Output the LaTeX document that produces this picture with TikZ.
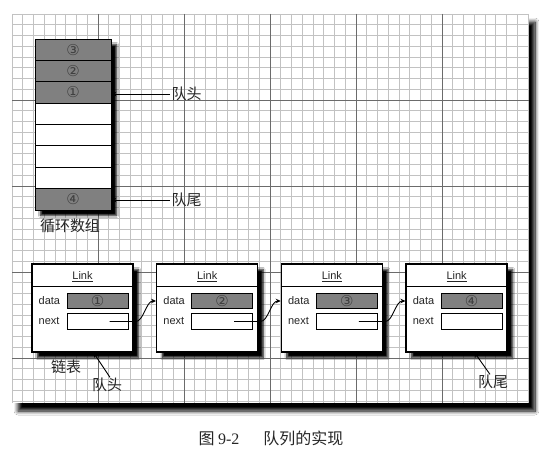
\documentclass[tikz,border=0pt]{standalone}
\usepackage{fontspec}
\setmainfont{Liberation Sans}
\newfontfamily\cjk{Noto Sans CJK SC}
\newfontfamily\circfont{DejaVu Sans}
\newfontfamily\numfont{Liberation Serif}
\usetikzlibrary{arrows.meta,shadows.blur,calc}

\begin{document}
\begin{tikzpicture}[x=1pt,y=-1pt,
  minorgrid/.style={draw=black!24, line width=0.6pt},
  majorgrid/.style={draw=black!58, line width=0.8pt},
  boxshadow/.style={blur shadow={shadow xshift=5.5pt, shadow yshift=-5.5pt,
      shadow blur radius=2pt, shadow blur steps=8, shadow opacity=100}},
  cell/.style={draw=black, line width=0.9pt, rectangle, minimum width=76pt,
      minimum height=21.375pt, inner sep=0pt,
      font=\circfont\fontsize{15}{15}\selectfont, text=black!75},
  full/.style={fill=black!50},
  free/.style={fill=white},
  linkbox/.style={draw=black, line width=1.3pt, fill=white, rectangle,
      minimum width=101pt, minimum height=88pt, inner sep=0pt, boxshadow},
  field/.style={draw=black, line width=0.9pt, rectangle, minimum width=61pt,
      minimum height=15.5pt, inner sep=0pt,
      font=\circfont\fontsize{15}{15}\selectfont, text=black!75},
  fieldname/.style={anchor=west, inner sep=0pt, font=\fontsize{11}{11}\selectfont, text=black!85},
  title/.style={inner sep=0pt, font=\fontsize{11}{11}\selectfont, text=black!85},
  zh/.style={inner sep=1.5pt, font=\cjk\fontsize{15}{15}\selectfont, text=black!85},
  ptr/.style={draw=black, line width=0.9pt, -{Stealth[length=5pt,width=4.5pt]}}
]
\useasboundingbox (0,0) rectangle (539,457);
\fill[white] (0,0) rectangle (539,457);

% graph-paper panel with its shadow
\path[fill=white, blur shadow={shadow xshift=6pt, shadow yshift=-8pt,
    shadow blur radius=4pt, shadow blur steps=10, shadow opacity=100}] (12,14) rectangle (529,403);
\begin{scope}
  \clip (12,14) rectangle (529,403);
  \foreach \i in {0,...,48} {
    \draw[minorgrid] (12+\i*10.75,14) -- (12+\i*10.75,403);
  }
  \foreach \j in {0,...,36} {
    \draw[minorgrid] (12,14+\j*10.75) -- (529,14+\j*10.75);
  }
  \foreach \i in {1,...,5} {
    \draw[majorgrid] (12+\i*86,14) -- (12+\i*86,403);
  }
  \foreach \j in {1,...,4} {
    \draw[majorgrid] (12,14+\j*86) -- (529,14+\j*86);
  }
\end{scope}

% circular array
\node[draw, line width=0.9pt, fill=white, minimum width=76pt, minimum height=171pt,
      inner sep=0pt, boxshadow] (arr) at (73,124.5) {};
\foreach \k/\lab/\sty in {1/③/full, 2/②/full, 3/①/full, 4//free,
                          5//free, 6//free, 7//free, 8/④/full} {
  \node[cell, \sty] (a\k) at (73,39+21.375*\k-10.6875) {\lab};
}
\node[zh, anchor=south] (arrname) at (70,235) {循环数组};

\node[zh, anchor=west] (qhead) at (170,94) {队头};
\node[zh, anchor=west] (qtail) at (170,200) {队尾};
\draw[ptr] (qhead.west) -- (qhead.west -| arr.east);
\draw[ptr] (qtail.west) -- (qtail.west -| arr.east);

% linked list
\foreach \k/\num in {1/①, 2/②, 3/③, 4/④} {
  \pgfmathsetmacro\bx{32+124.7*(\k-1)}
  \node[linkbox] (L\k) at (\bx+50.5,308) {};
  \draw[line width=0.9pt] ([yshift=-23pt]L\k.north west) -- ([yshift=-23pt]L\k.north east);
  \node[title] (t\k) at (\bx+50.5,277) {\underline{Link}};
  \node[fieldname] (dl\k) at (\bx+6.5,301) {data};
  \node[fieldname] (nl\k) at (\bx+6.5,321) {next};
  \node[field, fill=black!50] (d\k) at (\bx+65.5,301) {\num};
  \node[field, fill=white] (n\k) at (\bx+65.5,321.5) {};
  \coordinate (p\k) at ($(n\k.center)+(12,0)$);
}
\draw[ptr] (p1) -- ($(p1 -| L1.east)+(2,0)$) .. controls +(8,0) and +(-10,0) .. (L2.west |- d2.center);
\draw[ptr] (p2) -- ($(p2 -| L2.east)+(2,0)$) .. controls +(8,0) and +(-10,0) .. (L3.west |- d3.center);
\draw[ptr] (p3) -- ($(p3 -| L3.east)+(2,0)$) .. controls +(8,0) and +(-10,0) .. (L4.west |- d4.center);

\node[zh] (listname) at (66,367) {链表};
\node[zh] (lhead) at (107,385) {队头};
\node[zh] (ltail) at (493,382) {队尾};
\coordinate (hpt) at ($(L1.south)+(11,0)$);
\coordinate (tpt) at ($(L4.south)+(18,0)$);
\draw[ptr] ($(lhead.north)+(3,1)$) -- (hpt);
\draw[ptr] ($(ltail.north)+(-3,1)$) -- (tpt);

% caption
\node[inner sep=0pt, text=black!85] (caption) at (271,438)
  {\cjk\fontsize{16}{16}\selectfont 图 \numfont 9-2\hspace{24pt}\cjk 队列的实现};
\end{tikzpicture}
\end{document}
